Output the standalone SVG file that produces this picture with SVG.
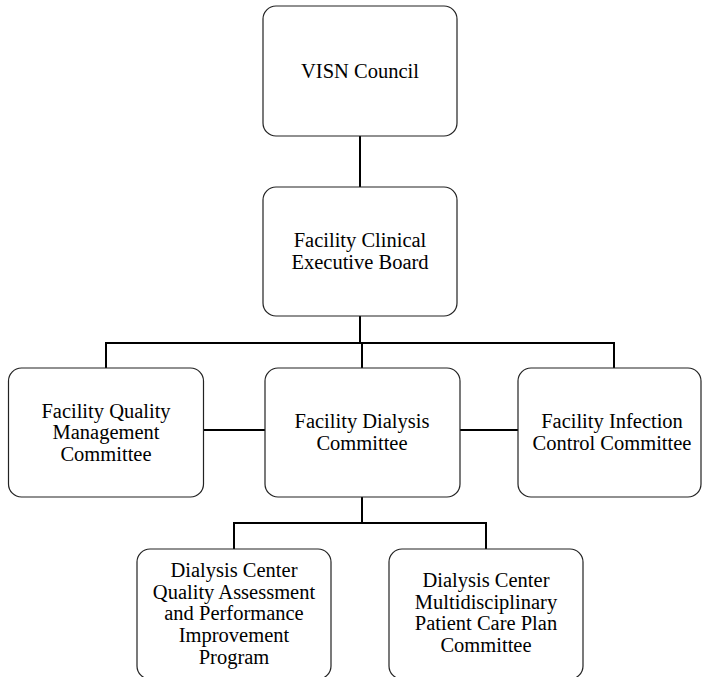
<svg xmlns="http://www.w3.org/2000/svg" width="702" height="677" viewBox="0 0 702 677">
<style>
.box{fill:#fff;stroke:#222;stroke-width:1.2}
.c{fill:none;stroke:#000;stroke-width:2}
</style>
<rect width="702" height="677" fill="#fff"/>
<g id="connectors">
<line class="c" x1="360" y1="136" x2="360" y2="187"/>
<polyline class="c" points="360,316 360,343"/>
<polyline class="c" points="106,368 106,343 614,343 614,368"/>
<line class="c" x1="362" y1="343" x2="362" y2="368"/>
<line class="c" x1="203" y1="430" x2="265" y2="430"/>
<line class="c" x1="460" y1="430" x2="518" y2="430"/>
<line class="c" x1="362" y1="497" x2="362" y2="523"/>
<polyline class="c" points="234,549 234,523 486,523 486,549"/>
</g>
<g id="visn">
<rect class="box" x="263" y="6" width="194" height="130" rx="13"/>
<text style="font-family:'Liberation Serif';font-size:20.5px" text-anchor="middle" x="360" y="78">VISN Council</text>
</g>
<g id="fceb">
<rect class="box" x="263" y="187" width="194" height="129" rx="13"/>
<text style="font-family:'Liberation Serif';font-size:20.5px" text-anchor="middle" x="360" y="247">Facility Clinical</text>
<text style="font-family:'Liberation Serif';font-size:20.5px" text-anchor="middle" x="360" y="268.5">Executive Board</text>
</g>
<g id="fqmc">
<rect class="box" x="8.5" y="368" width="195" height="129" rx="13"/>
<text style="font-family:'Liberation Serif';font-size:20.5px" text-anchor="middle" x="106" y="417.5">Facility Quality</text>
<text style="font-family:'Liberation Serif';font-size:20.5px" text-anchor="middle" x="106" y="439">Management</text>
<text style="font-family:'Liberation Serif';font-size:20.5px" text-anchor="middle" x="106" y="460.5">Committee</text>
</g>
<g id="fdc">
<rect class="box" x="265" y="368" width="195" height="129" rx="13"/>
<text style="font-family:'Liberation Serif';font-size:20.5px" text-anchor="middle" x="362" y="428">Facility Dialysis</text>
<text style="font-family:'Liberation Serif';font-size:20.5px" text-anchor="middle" x="362" y="449.5">Committee</text>
</g>
<g id="ficc">
<rect class="box" x="518" y="368" width="183" height="129" rx="13"/>
<text style="font-family:'Liberation Serif';font-size:20.5px" text-anchor="middle" x="612" y="428">Facility Infection</text>
<text style="font-family:'Liberation Serif';font-size:20.5px" text-anchor="middle" x="612" y="449.5">Control Committee</text>
</g>
<g id="dcqa">
<rect class="box" x="137" y="549" width="194" height="130" rx="13"/>
<text style="font-family:'Liberation Serif';font-size:20.5px" text-anchor="middle" x="234" y="577">Dialysis Center</text>
<text style="font-family:'Liberation Serif';font-size:20.5px" text-anchor="middle" x="234" y="598.7">Quality Assessment</text>
<text style="font-family:'Liberation Serif';font-size:20.5px" text-anchor="middle" x="234" y="620.4">and Performance</text>
<text style="font-family:'Liberation Serif';font-size:20.5px" text-anchor="middle" x="234" y="642.1">Improvement</text>
<text style="font-family:'Liberation Serif';font-size:20.5px" text-anchor="middle" x="234" y="663.8">Program</text>
</g>
<g id="dcmp">
<rect class="box" x="389" y="549" width="194" height="130" rx="13"/>
<text style="font-family:'Liberation Serif';font-size:20.5px" text-anchor="middle" x="486" y="587">Dialysis Center</text>
<text style="font-family:'Liberation Serif';font-size:20.5px" text-anchor="middle" x="486" y="608.7">Multidisciplinary</text>
<text style="font-family:'Liberation Serif';font-size:20.5px" text-anchor="middle" x="486" y="630.4">Patient Care Plan</text>
<text style="font-family:'Liberation Serif';font-size:20.5px" text-anchor="middle" x="486" y="652.1">Committee</text>
</g>
</svg>
